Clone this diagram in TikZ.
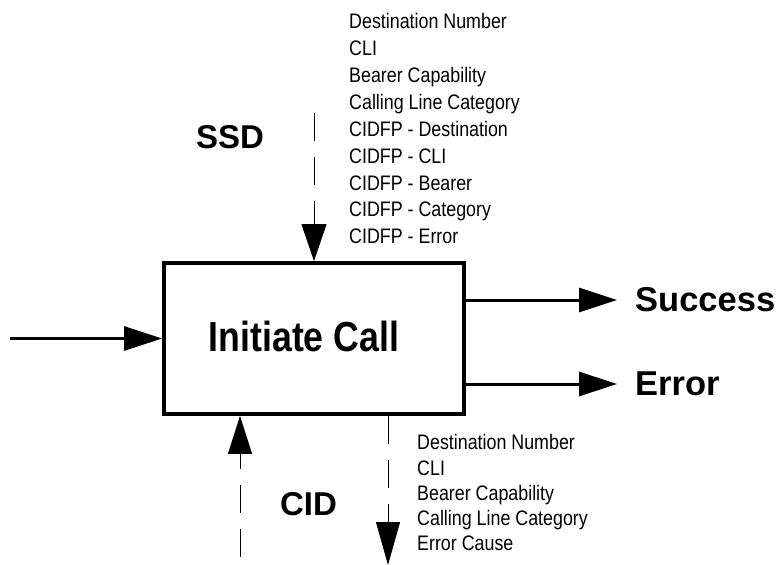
\documentclass[tikz,border=0pt]{standalone}
\usepackage{fontspec}
\setmainfont{Liberation Sans}
\newfontfamily\narrowfont[FakeStretch=0.85]{Liberation Sans}
\usetikzlibrary{arrows.meta,calc}

\begin{document}
\begin{tikzpicture}[x=1pt, y=-1pt,
		procbox/.style={draw, line width=3.8pt, minimum width=300pt, minimum height=151pt, inner sep=0pt},
		flow/.style={line width=3pt, -{Triangle[length=38pt, width=24pt]}},
		dataflow/.style={line width=1pt, dash pattern=on 28pt off 16pt, -{Triangle[length=38pt, width=24pt]}},
		titletext/.style={inner sep=0pt, font=\narrowfont\bfseries\fontsize{42}{42}\selectfont},
		flowtext/.style={inner sep=0pt, font=\bfseries\fontsize{33}{33}\selectfont},
		listtext/.style={inner sep=0pt, align=left, anchor=north west, font=\narrowfont\fontsize{21}{26.9}\selectfont}]
		%%%%% START %%%%%
		
		\useasboundingbox (0,0) rectangle (780,565);
		
		\node[procbox] (call) at (314,338.5) {};
		\node[titletext] (calltext) at (304,336.5) {Initiate Call};
		
		\coordinate (src) at (10,338.5);
		\draw[flow] (src) -- (call.west);
		
		\node[flowtext, anchor=west, font=\bfseries\fontsize{34.5}{34.5}\selectfont] (succ) at (635,300) {Success};
		\node[flowtext, anchor=west, font=\bfseries\fontsize{34.5}{34.5}\selectfont] (err) at (635,384) {Error};
		\draw[flow] (succ.west -| call.east) -- ([xshift=-18pt]succ.west);
		\draw[flow] (err.west -| call.east) -- ([xshift=-18pt]err.west);
		
		\node[flowtext] (ssd) at (230,137.5) {SSD};
		\coordinate (ssdtop) at (314,113);
		\draw[dataflow, -{Triangle[length=37pt, width=25pt]}] (ssdtop) -- (call.north);
		\node[listtext] (ssdlist) at (349,13.2) {Destination Number\\CLI\\Bearer Capability\\Calling Line Category\\CIDFP - Destination\\CIDFP - CLI\\CIDFP - Bearer\\CIDFP - Category\\CIDFP - Error};
		
		\node[flowtext] (cid) at (308.5,504.5) {CID};
		\coordinate (cidbot) at (240,557);
		\draw[dataflow] (cidbot) -- (cidbot |- call.south);
		
		\coordinate (outbot) at (388,565);
		\draw[dataflow, -{Triangle[length=43pt, width=24pt]}] (outbot |- call.south) -- (outbot);
		\node[listtext, font=\narrowfont\fontsize{21}{25.2}\selectfont] (cidlist) at (417,434.5) {Destination Number\\CLI\\Bearer Capability\\Calling Line Category\\Error Cause};
		
		%%%%% END %%%%%
	\end{tikzpicture}
\end{document}
